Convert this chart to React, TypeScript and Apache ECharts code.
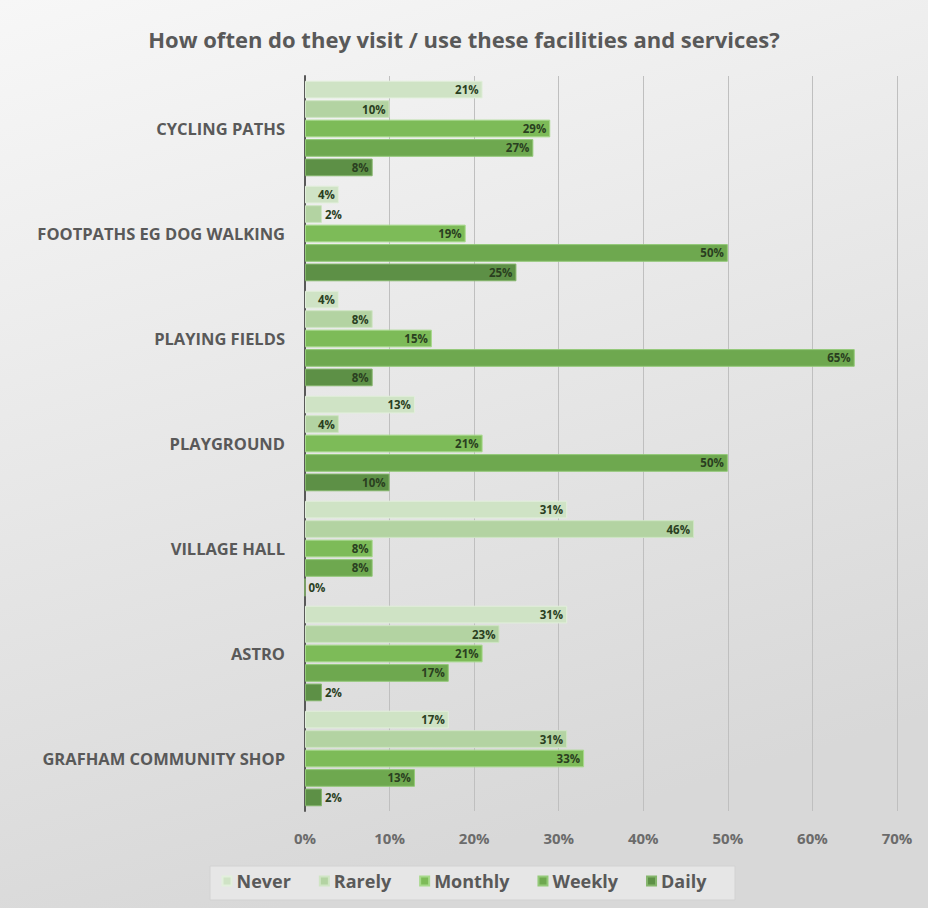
import React, { useEffect, useRef } from "react";
import * as echarts from "echarts";

const categories = [
  "CYCLING PATHS",
  "FOOTPATHS EG DOG WALKING",
  "PLAYING FIELDS",
  "PLAYGROUND",
  "VILLAGE HALL",
  "ASTRO",
  "GRAFHAM COMMUNITY SHOP",
];
const seriesNames = ["Never", "Rarely", "Monthly", "Weekly", "Daily"];
const never = [21, 4, 4, 13, 31, 31, 17];
const rarely = [10, 2, 8, 4, 46, 23, 31];
const monthly = [29, 19, 15, 21, 8, 21, 33];
const weekly = [27, 50, 65, 50, 8, 17, 13];
const daily = [8, 25, 8, 10, 0, 2, 2];
const xTicks = [0, 10, 20, 30, 40, 50, 60, 70];

const colors = ["#cfe3c5", "#b3d3a2", "#7dbb58", "#6ea84f", "#5d9046"];
const borders = ["#e2efdc", "#cfe5c4", "#a6d98a", "#93c978", "#84b56b"];

export default function App() {
  const ref = useRef<HTMLDivElement>(null);
  useEffect(() => {
    if (!ref.current) return;
    const chart = echarts.init(ref.current, undefined, { renderer: "svg" });
    const values = [never, rarely, monthly, weekly, daily];
    const font = "'Open Sans', Lato, sans-serif";
    chart.setOption({
      animation: false,
      backgroundColor: {
        type: "linear",
        x: 0,
        y: 0,
        x2: 0.3,
        y2: 1,
        colorStops: [
          { offset: 0, color: "#f7f7f7" },
          { offset: 1, color: "#d8d8d8" },
        ],
      },
      title: {
        text: "How often do they visit / use these facilities and services?",
        left: "center",
        top: 23,
        textStyle: { fontFamily: font, fontSize: 22, fontWeight: "bold", color: "#595959" },
      },
      graphic: [
        {
          type: "rect",
          shape: { x: 210, y: 866, width: 525, height: 34 },
          style: { fill: "#e6e6e6", stroke: "#d2d2d2", lineWidth: 1 },
          z: -1,
        },
      ],
      legend: {
        data: seriesNames,
        bottom: 13,
        left: "center",
        itemWidth: 9,
        itemHeight: 9,
        itemGap: 28,
        icon: "rect",
        textStyle: { fontFamily: font, fontSize: 18, fontWeight: "bold", color: "#595959" },
      },
      grid: { left: 305, right: 31, top: 76, bottom: 97, containLabel: false },
      xAxis: {
        type: "value",
        min: 0,
        max: 70,
        interval: 10,
        axisLabel: {
          formatter: (v: number) => (xTicks.includes(v) ? v + "%" : ""),
          fontFamily: font,
          fontSize: 15,
          fontWeight: "bold",
          color: "#6b6b6b",
          margin: 19,
        },
        axisLine: { show: false },
        axisTick: { show: false },
        splitLine: { lineStyle: { color: "#bfbfbf", width: 1 } },
      },
      yAxis: {
        type: "category",
        data: categories,
        inverse: true,
        axisLine: { show: true, lineStyle: { color: "#595959", width: 2 } },
        axisTick: { show: false },
        axisLabel: {
          fontFamily: font,
          fontSize: 16.5,
          fontWeight: "bold",
          color: "#595959",
          margin: 20,
        },
      },
      series: seriesNames.map((name, i) => ({
        name,
        type: "bar",
        barGap: "10%",
        barCategoryGap: "9%",
        itemStyle: { color: colors[i], borderColor: borders[i], borderWidth: 1 },
        data: values[i].map((v) => ({
          value: v,
          label: {
            show: true,
            position: v < 4 ? "right" : "insideRight",
            distance: v < 4 ? 3 : 4,
            formatter: "{c}%",
            fontFamily: font,
            fontSize: 11.5,
            fontWeight: "bold",
            color: "#2a3f1f",
          },
        })),
      })),
    });
    return () => chart.dispose();
  }, []);
  return (
    <div
      ref={ref}
      style={{ position: "fixed", left: 0, top: 0, width: 928, height: 908 }}
    />
  );
}
